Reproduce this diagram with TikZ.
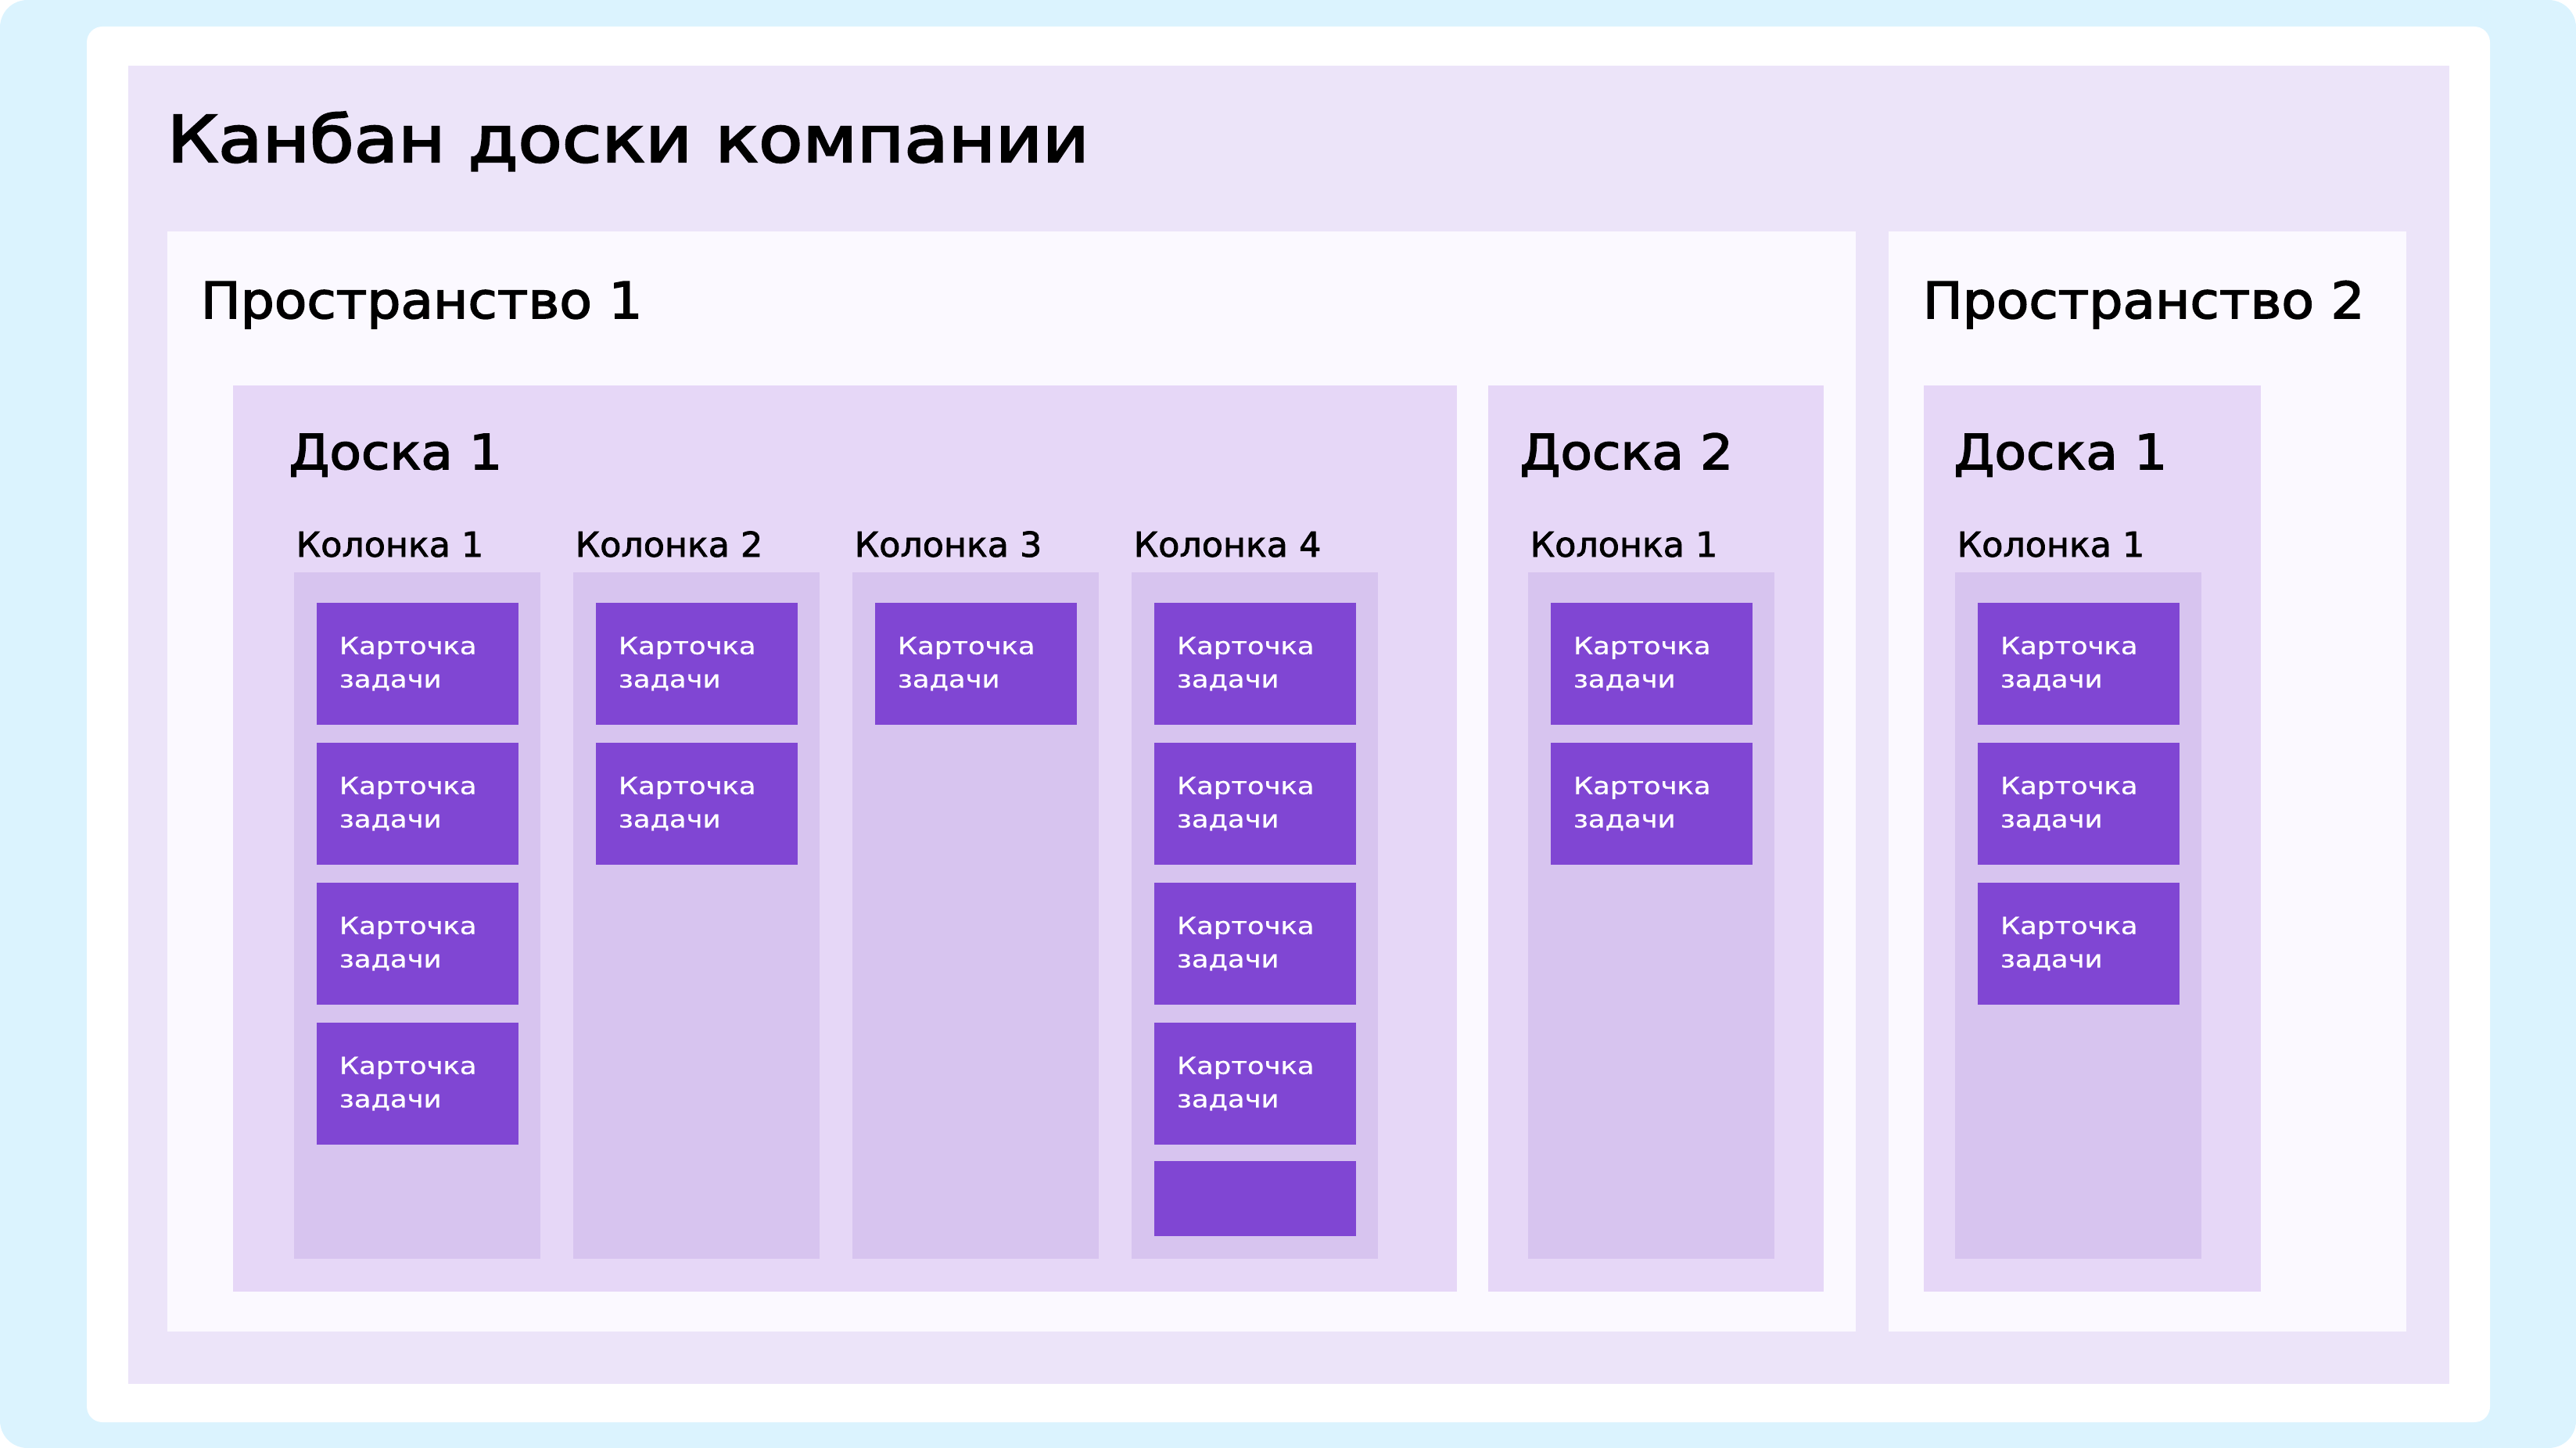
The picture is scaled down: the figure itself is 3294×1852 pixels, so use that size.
\documentclass[tikz,border=0pt]{standalone}
\usepackage{fontspec}
\setmainfont{DejaVu Sans}
\newfontfamily\titlefont[FakeStretch=1.12, FakeBold=3]{DejaVu Sans}
\newfontfamily\spacefont[FakeStretch=1.055, FakeBold=2.5]{DejaVu Sans}
\newfontfamily\boardfont[FakeStretch=1.07, FakeBold=2.5]{DejaVu Sans}
\newfontfamily\colfont[FakeStretch=1.01, FakeBold=1.8]{DejaVu Sans}
\newfontfamily\cardfont[FakeStretch=1.17, FakeBold=0.8]{DejaVu Sans}
\usepackage{xcolor}
\usepackage{tikz}
\usetikzlibrary{positioning}

\definecolor{bgblue}{HTML}{DBF3FE}
\definecolor{framefill}{HTML}{ECE4F9}
\definecolor{spacefill}{HTML}{FBF9FF}
\definecolor{boardfill}{HTML}{E6D7F7}
\definecolor{colfill}{HTML}{D7C4EF}
\definecolor{cardfill}{HTML}{8046D3}

\begin{document}
\begin{tikzpicture}[x=0.01cm, y=-0.01cm,
		box/.style={anchor=north west, inner sep=0pt, outer sep=0pt},
		spacebox/.style={box, fill=spacefill, minimum height=14.06cm},
		boardbox/.style={box, fill=boardfill, minimum height=11.58cm},
		colbox/.style={box, fill=colfill, minimum width=3.15cm, minimum height=8.77cm},
		card/.style={anchor=north west, outer sep=0pt, fill=cardfill, text=white, minimum height=1.56cm, inner xsep=0.29cm, inner ysep=0pt, text width=2.0cm, align=left, font=\cardfont\fontsize{8.6}{12.1}\selectfont},
		heading/.style={anchor=base west, inner sep=0pt, font=\titlefont\fontsize{23.4}{28}\selectfont},
		spacelabel/.style={anchor=base west, inner sep=0pt, font=\spacefont\fontsize{18.3}{22}\selectfont},
		boardlabel/.style={anchor=base west, inner sep=0pt, font=\boardfont\fontsize{17.6}{21}\selectfont},
		collabel/.style={anchor=base west, inner sep=0pt, font=\colfont\fontsize{12.5}{15}\selectfont}]
		\useasboundingbox (0,0) rectangle (3294,1852);
		% Frames:
		\fill[bgblue, rounded corners=0.35cm] (0,0) rectangle (3294,1852);
		\fill[white, rounded corners=0.2cm] (111,34) rectangle (3184,1819);
		\fill[framefill] (164,84) rectangle (3132,1770);
		\node[heading] (title) at (213,207) {Канбан доски компании};
		% Spaces:
		\node[spacebox, minimum width=21.58cm] (space1) at (214,296) {};
		\node[spacebox, minimum width=6.62cm] (space2) at (2415,296) {};
		\node[spacelabel] (space1label) at (256,407) {Пространство 1};
		\node[spacelabel] (space2label) at (2458,407) {Пространство 2};
		% Boards:
		\node[boardbox, minimum width=15.64cm] (board11) at (298,493) {};
		\node[boardbox, minimum width=4.29cm] (board12) at (1903,493) {};
		\node[boardbox, minimum width=4.31cm] (board21) at (2460,493) {};
		\node[boardlabel] (board11label) at (369,600) {Доска 1};
		\node[boardlabel] (board12label) at (1943,600) {Доска 2};
		\node[boardlabel] (board21label) at (2498,600) {Доска 1};
		% Columns:
		\node[colbox] (col1) at (376,732) {};
		\node[colbox] (col2) at (733,732) {};
		\node[colbox] (col3) at (1090,732) {};
		\node[colbox] (col4) at (1447,732) {};
		\node[colbox] (col5) at (1954,732) {};
		\node[colbox] (col6) at (2500,732) {};
		\node[collabel] at (378,712) {Колонка 1};
		\node[collabel] at (735,712) {Колонка 2};
		\node[collabel] at (1092,712) {Колонка 3};
		\node[collabel] at (1449,712) {Колонка 4};
		\node[collabel] at (1956,712) {Колонка 1};
		\node[collabel] at (2502,712) {Колонка 1};
		% Cards:
		\node[card] (card11) at (405,771) {Карточка\\задачи};
		\node[card] (card12) at (405,950) {Карточка\\задачи};
		\node[card] (card13) at (405,1129) {Карточка\\задачи};
		\node[card] (card14) at (405,1308) {Карточка\\задачи};
		\node[card] (card21) at (762,771) {Карточка\\задачи};
		\node[card] (card22) at (762,950) {Карточка\\задачи};
		\node[card] (card31) at (1119,771) {Карточка\\задачи};
		\node[card] (card41) at (1476,771) {Карточка\\задачи};
		\node[card] (card42) at (1476,950) {Карточка\\задачи};
		\node[card] (card43) at (1476,1129) {Карточка\\задачи};
		\node[card] (card44) at (1476,1308) {Карточка\\задачи};
		\node[card, minimum height=0.96cm] (card45) at (1476,1485) {};
		\node[card] (card51) at (1983,771) {Карточка\\задачи};
		\node[card] (card52) at (1983,950) {Карточка\\задачи};
		\node[card] (card61) at (2529,771) {Карточка\\задачи};
		\node[card] (card62) at (2529,950) {Карточка\\задачи};
		\node[card] (card63) at (2529,1129) {Карточка\\задачи};
	\end{tikzpicture}
\end{document}
